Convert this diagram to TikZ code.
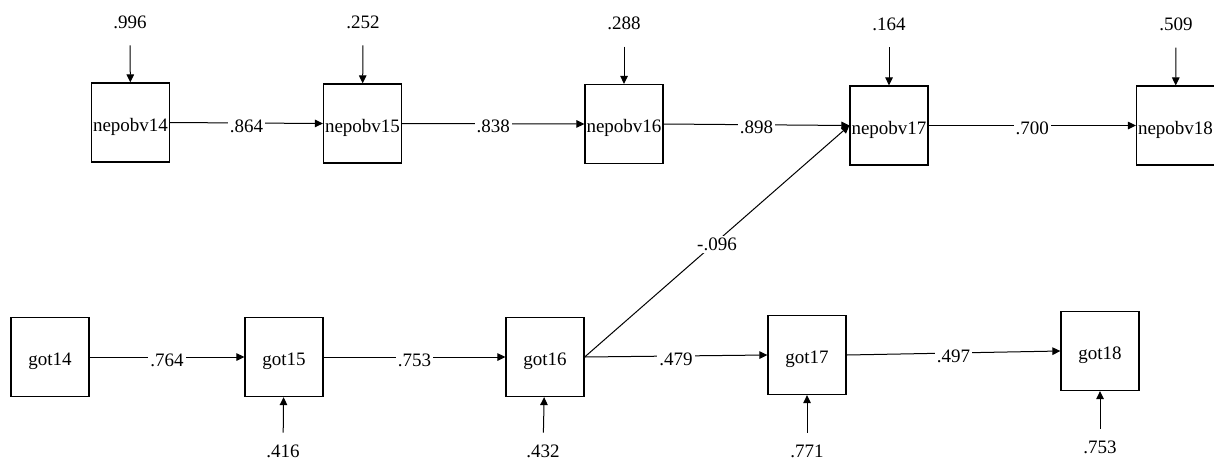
\documentclass[tikz,border=0pt]{standalone}
\usepackage{fontspec}
\setmainfont{Liberation Serif}
\usetikzlibrary{arrows.meta}

\tikzset{
  var/.style={draw,rectangle,line width=0.65pt,minimum width=39pt,minimum height=39.5pt,
    inner sep=0pt,text height=9.5pt,text depth=1pt},
  err/.style={inner sep=0.3333em},
  coef/.style={fill=white,inner sep=1pt,yshift=-1.5pt},
  path/.style={line width=0.5pt,arrows = -{Triangle[length=4pt,width=3.8pt]}}
}

\begin{document}
\begin{tikzpicture}[x=0.5pt,y=-0.5pt,font=\rmfamily\fontsize{9.5}{11}\selectfont]

            % \draw [help lines] (0,0) grid (1214,461);
            \useasboundingbox (0,0) rectangle (1214,461);

            \path   (130.5,122.5) node (n14) [var] {nepobv14}
                    (362.5,123.5) node (n15) [var] {nepobv15}
                    (624,124)     node (n16) [var] {nepobv16}
                    (889,125.5)   node (n17) [var] {nepobv17}
                    (1175.5,125.5) node (n18) [var] {nepobv18}

                    (50,357)  node (g14) [var] {got14}
                    (284,357) node (g15) [var] {got15}
                    (545,357) node (g16) [var] {got16}
                    (807,355) node (g17) [var] {got17}
                    (1100,351) node (g18) [var] {got18};

            % residuals
            \path   (130,22)  node (r14) [err] {.996}
                    (363,22)  node (r15) [err] {.252}
                    (624,23)  node (r16) [err] {.288}
                    (889,24)  node (r17) [err] {.164}
                    (1176,24) node (r18) [err] {.509}

                    (283,451)  node (s15) [err] {.416}
                    (543,451)  node (s16) [err] {.432}
                    (807,451)  node (s17) [err] {.771}
                    (1100,447) node (s18) [err] {.753};

            \draw[path,shorten <=5pt] (r14) -- (n14);
            \draw[path,shorten <=5pt] (r15) -- (n15);
            \draw[path,shorten <=5pt] (r16) -- (n16);
            \draw[path,shorten <=5pt] (r17) -- (n17);
            \draw[path,shorten <=5pt] (r18) -- (n18);

            \draw[path,shorten <=2.5pt] (s15) -- (g15);
            \draw[path,shorten <=2.5pt] (s16) -- (g16);
            \draw[path,shorten <=2.5pt] (s17) -- (g17);
            \draw[path,shorten <=2.5pt] (s18) -- (g18);

            % stability paths
            \draw[path] (n14.east) -- node[coef] {.864} (n15.west);
            \draw[path] (n15.east) -- node[coef] {.838} (n16.west);
            \draw[path] (n16.east) -- node[coef] {.898} (n17.west);
            \draw[path] (n17.east) -- node[coef] {.700} (n18.west);

            \draw[path] (g14.east) -- node[coef] {.764} (g15.west);
            \draw[path] (g15.east) -- node[coef] {.753} (g16.west);
            \draw[path] (g16.east) -- node[coef] {.479} (g17.west);
            \draw[path] (g17.east) -- node[coef] {.497} (g18.west);

            % cross-lagged path
            \draw[path] (g16.east) -- node[coef] {-.096} (n17.west);
        \end{tikzpicture}
\end{document}
